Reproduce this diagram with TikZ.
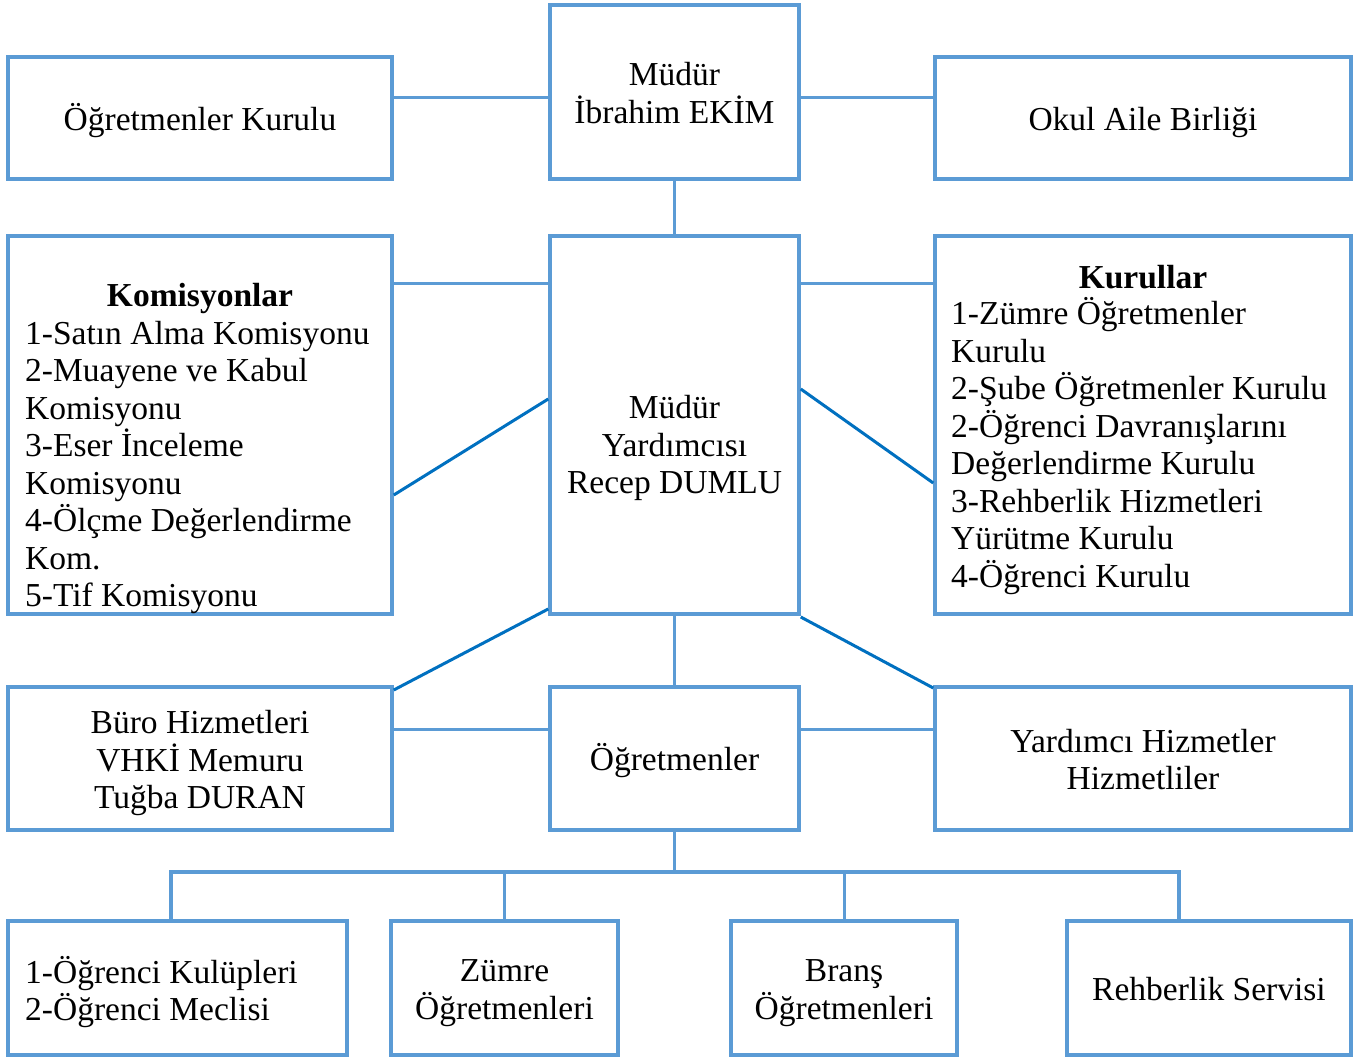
\documentclass[tikz,border=0pt]{standalone}
\usepackage{fontspec}
\setmainfont{Liberation Serif}
\definecolor{boxblue}{HTML}{5B9BD5}
\definecolor{lineblue}{HTML}{0070C0}
\newcommand\orgfs{\fontsize{33.5}{37.5}\selectfont}
\newcommand\orgstrut{\rule[-8pt]{0pt}{40pt}}
\newcommand\orgtop{\rule{0pt}{33pt}}
\newcommand\orgbot{\rule[-8pt]{0pt}{8pt}}
\begin{document}
\begin{tikzpicture}[x=1pt,y=-1pt,
  box/.style={draw=boxblue, line width=3.5pt, inner sep=0pt, align=center, font=\orgfs},
  txt/.style={inner sep=0pt, font=\orgfs},
  conn/.style={draw=boxblue, line width=3pt},
  diag/.style={draw=lineblue, line width=3pt}]
\useasboundingbox[fill=white] (0,0) rectangle (1361,1057);
% top row
\node[box, minimum width=249pt, minimum height=174pt] (mudur) at (674.5,92) {\orgtop Müdür\\İbrahim EKİM\orgbot};
\node[box, minimum width=384pt, minimum height=122pt] (ok) at (200,118) {\orgstrut Öğretmenler Kurulu};
\node[box, minimum width=416pt, minimum height=122pt] (oab) at (1143,118) {\orgstrut Okul Aile Birliği};
% middle row
\node[box, minimum width=384pt, minimum height=378pt] (kom) at (200,425) {};
\node[box, minimum width=249pt, minimum height=378pt] (my) at (674.5,425) {};
\node[box, minimum width=416pt, minimum height=378pt] (kur) at (1143,425) {};
\node[txt, align=center] (mytext) at (674.5,448) {Müdür\\Yardımcısı\\Recep DUMLU};
\node[txt, font=\orgfs\bfseries] (komtitle) at (200,298) {Komisyonlar};
\node[txt, align=left, anchor=west] (komlist) at (25,467.5) {1-Satın Alma Komisyonu\\2-Muayene ve Kabul\\Komisyonu\\3-Eser İnceleme\\Komisyonu\\4-Ölçme Değerlendirme\\Kom.\\5-Tif Komisyonu};
\node[txt, font=\orgfs\bfseries] (kurtitle) at (1143,277) {Kurullar};
\node[txt, align=left, anchor=west] (kurlist) at (951,446) {1-Zümre Öğretmenler\\Kurulu\\2-Şube Öğretmenler Kurulu\\2-Öğrenci Davranışlarını\\Değerlendirme Kurulu\\3-Rehberlik Hizmetleri\\Yürütme Kurulu\\4-Öğrenci Kurulu};
% lower row
\node[box, minimum width=384pt, minimum height=143pt] (buro) at (200,758.5) {\orgtop Büro Hizmetleri\\VHKİ Memuru\\Tuğba DURAN\orgbot};
\node[box, minimum width=249pt, minimum height=143pt] (ogr) at (674.5,758.5) {\orgstrut Öğretmenler};
\node[box, minimum width=416pt, minimum height=143pt] (yard) at (1143,758.5) {\orgtop Yardımcı Hizmetler\\Hizmetliler\orgbot};
% bottom row
\node[box, minimum width=339pt, minimum height=134pt] (b1) at (177.5,988) {};
\node[txt, align=left, anchor=west] (b1text) at (25,992) {1-Öğrenci Kulüpleri\\2-Öğrenci Meclisi};
\node[box, minimum width=227pt, minimum height=134pt] (b2) at (504.5,988) {\orgtop Zümre\\Öğretmenleri\orgbot};
\node[box, minimum width=226pt, minimum height=134pt] (b3) at (844,988) {\orgtop Branş\\Öğretmenleri\orgbot};
\node[box, minimum width=284pt, minimum height=134pt] (b4) at (1209,988) {\orgstrut Rehberlik Servisi};
% connectors
\draw[conn] (ok.east |- 0,98) -- (mudur.west |- 0,98);
\draw[conn] (mudur.east |- 0,98) -- (oab.west |- 0,98);
\draw[conn] (mudur.south) -- (my.north);
\draw[conn] (kom.east |- 0,283) -- (my.west |- 0,283);
\draw[conn] (my.east |- 0,283) -- (kur.west |- 0,283);
\draw[diag] (kom.east |- 0,495) -- (my.west |- 0,399);
\draw[diag] (my.east |- 0,389) -- (kur.west |- 0,483);
\draw[diag] (buro.north east |- 0,690) -- (my.south west |- 0,609);
\draw[diag] (my.south east |- 0,617) -- (yard.north west |- 0,688);
\draw[conn] (my.south) -- (ogr.north);
\draw[conn] (buro.east |- 0,729) -- (ogr.west |- 0,729);
\draw[conn] (ogr.east |- 0,729) -- (yard.west |- 0,729);
\coordinate (bus) at (674.5,872);
\draw[conn] (ogr.south) -- (bus);
\draw[conn, line width=3.5pt] (b1.north -| 171,0) -- (171,872) -- (1179,872) -- (b4.north -| 1179,0);
\draw[conn] (bus -| b2.north) -- (b2.north);
\draw[conn] (bus -| b3.north) -- (b3.north);
\end{tikzpicture}
\end{document}
